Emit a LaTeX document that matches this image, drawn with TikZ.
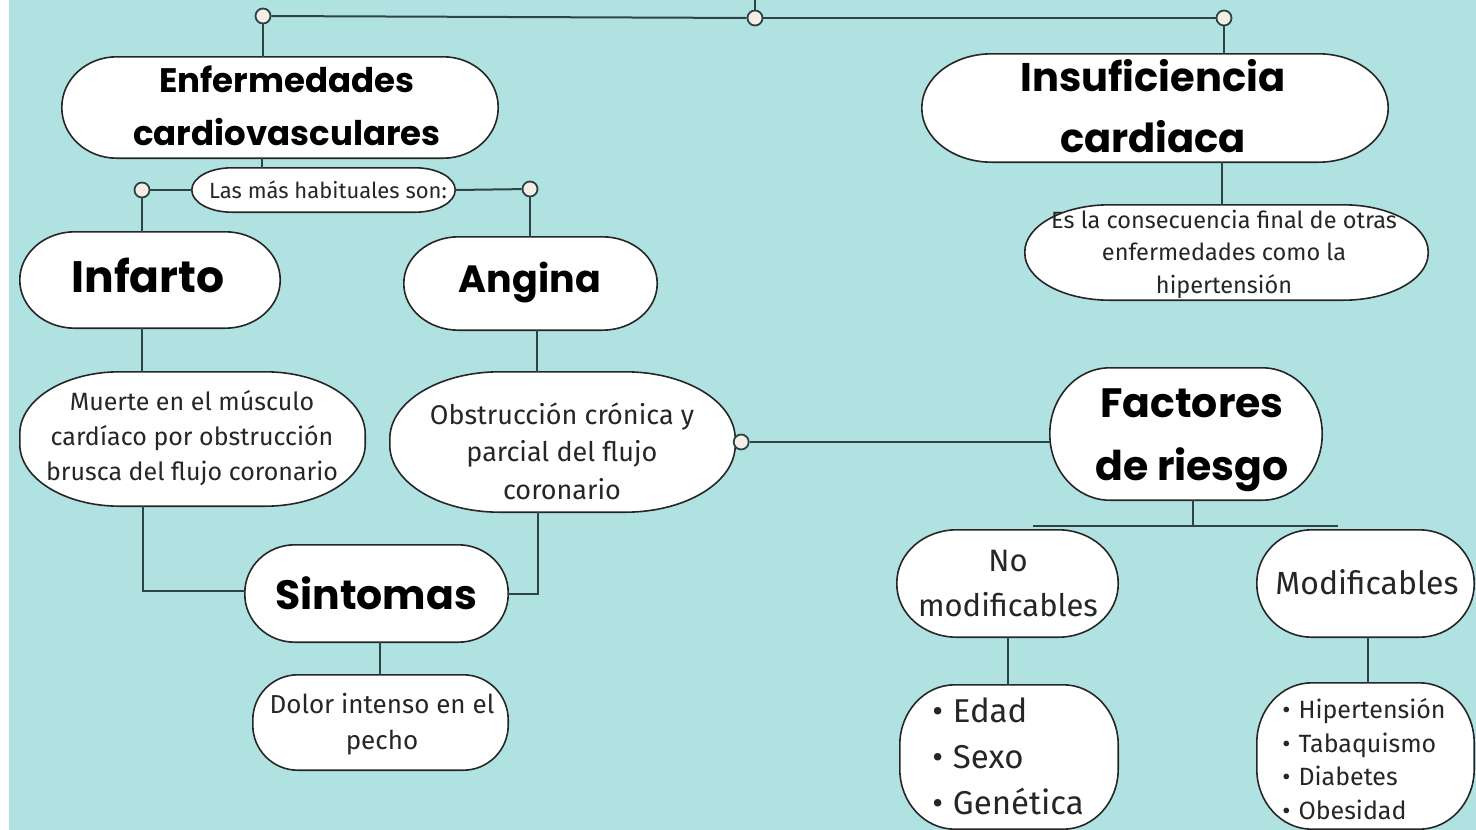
\documentclass[tikz,border=0pt]{standalone}
\usepackage{fontspec}
\setmainfont{Fira Sans}
\newfontfamily\titlefont{Poppins}
\usetikzlibrary{calc}
\definecolor{bgc}{HTML}{B1E2E2}
\definecolor{lnc}{HTML}{2E4444}
\definecolor{dotc}{HTML}{F4EEE6}
\definecolor{olc}{HTML}{262626}
% #1 name, #2 cx, #3 cy (px, downward), #4 w, #5 h, #6 rx, #7 ry
\newcommand\blob[7]{%
  \node[inner sep=0pt, minimum width=#4, minimum height=#5] (#1) at (#2,-#3) {};
  \draw[shapeline] ([xshift=#6]#1.north west) -- ([xshift=-#6]#1.north east)
    arc[start angle=90,end angle=0,x radius=#6,y radius=#7]
    -- ([yshift=#7]#1.south east)
    arc[start angle=0,end angle=-90,x radius=#6,y radius=#7]
    -- ([xshift=#6]#1.south west)
    arc[start angle=270,end angle=180,x radius=#6,y radius=#7]
    -- ([yshift=-#7]#1.north west)
    arc[start angle=180,end angle=90,x radius=#6,y radius=#7] -- cycle;
}
\begin{document}
\begin{tikzpicture}[x=1pt,y=1pt,
  conn/.style={draw=lnc,line width=2pt},
  dot/.style={circle,draw=lnc,line width=1.8pt,fill=dotc,minimum size=15pt,inner sep=0pt},
  shapeline/.style={draw=olc,line width=1.6pt,fill=white},
  ttl/.style 2 args={font=\titlefont\bfseries\fontsize{#1}{#2}\selectfont, align=center, inner sep=0pt, text=black},
  txt/.style 2 args={font=\fontsize{#1}{#2}\selectfont, align=center, inner sep=0pt, text=black!85},
  lst/.style 2 args={font=\fontsize{#1}{#2}\selectfont, align=left, inner sep=0pt, text=black!85}]
\useasboundingbox (0,0) rectangle (1476,-830);
\fill[white] (0,0) rectangle (1476,-830);
\fill[bgc] (9,0) rectangle (1476,-830);

% shapes
\blob{enf}{280}{107.5}{436}{101}{55}{50.5}
\blob{ins}{1155}{108}{466}{108}{70}{54}
\blob{las}{323.5}{190}{263}{44}{40}{22}
\blob{inf}{150}{280}{260}{96}{55}{48}
\blob{ang}{530.5}{283.5}{253}{93}{55}{46.5}
\blob{mue}{192.5}{439}{345}{134}{100}{62}
\blob{obs}{562.5}{442}{345}{140}{110}{67}
\blob{sin}{376.5}{593.5}{263}{97}{50}{48}
\blob{dol}{380.5}{722.5}{255}{95}{45}{45}
\blob{esla}{1226.5}{252.5}{403}{95}{85}{47}
\blob{fac}{1186}{434}{272}{132}{60}{66}
\blob{nomod}{1007.5}{583.5}{221}{107}{60}{53}
\blob{mod}{1365.5}{583.5}{217}{107}{55}{53}
\blob{edad}{1009}{757}{218}{144}{55}{60}
\blob{hip}{1365.5}{756}{217}{146}{55}{60}

% texts
\node[ttl={34}{53}] (tenf) at (287,-106) {Enfermedades\\cardiovasculares};
\node[ttl={40}{61}] (tins) at (1153,-106) {Insuficiencia\\cardiaca};
\node[txt={22}{24}] (tlas) at (328,-190) {Las más habituales son:};
\node[ttl={44}{46}] (tinf) at (148,-275) {Infarto};
\node[ttl={38}{46}] (tang) at (530,-283) {Angina};
\node[ttl={41}{46}] (tsin) at (376,-593) {Sintomas};
\node[ttl={41}{63}] (tfac) at (1192,-440) {Factores\\de riesgo};
\node[txt={25}{35}] (tmue) at (192,-438) {Muerte en el músculo\\cardíaco por obstrucción\\brusca del flujo coronario};
\node[txt={27}{37.5}] (tobs) at (562,-451) {Obstrucción crónica y\\parcial del flujo\\coronario};
\node[txt={26}{36}] (tdol) at (382,-724) {Dolor intenso en el\\pecho};
\node[txt={23.5}{32.5}] (tesla) at (1224,-254) {Es la consecuencia final de otras\\enfermedades como la\\hipertensión};
\node[txt={31}{45}] (tnomod) at (1008,-583.5) {No\\modificables};
\node[txt={32}{36}] (tmod) at (1367,-582) {Modificables};
\node[lst={33}{46}] (tedad) at (1008,-756) {\textbullet\hspace{10pt}Edad\\\textbullet\hspace{10pt}Sexo\\\textbullet\hspace{10pt}Genética};
\node[lst={25}{33.5}] (thip) at (1364,-759) {\textbullet\hspace{8pt}Hipertensión\\\textbullet\hspace{8pt}Tabaquismo\\\textbullet\hspace{8pt}Diabetes\\\textbullet\hspace{8pt}Obesidad};

% dots
\coordinate (top) at (755,0);
\node[dot] (c0) at (755,-18) {};
\node[dot] (c1) at (263,-16) {};
\node[dot] (c2) at (1224,-18) {};
\node[dot] (c3) at (142,-190) {};
\node[dot] (c4) at (530,-189) {};
\node[dot] (c5) at ([xshift=6]obs.east) {};

% connectors
\draw[conn] (top) -- (c0);
\draw[conn] (c1) -- (c0);
\draw[conn] (c0) -- (c2);
\draw[conn] (c1) -- (c1 |- enf.north);
\draw[conn] (c2) -- (c2 |- ins.north);
\draw[conn] ([xshift=-18]enf.south) -- ([xshift=-18]enf.south |- las.north);
\draw[conn] (c3) -- (las.west);
\draw[conn] (las.east) -- (c4);
\draw[conn] (c3) -- (c3 |- inf.north);
\draw[conn] (c4) -- (c4 |- ang.north);
\draw[conn] ([xshift=-8]inf.south) -- ([xshift=-8]inf.south |- mue.north);
\draw[conn] ([xshift=6]ang.south) -- ([xshift=6]ang.south |- obs.north);
\draw[conn] ([xshift=-50]mue.south) |- ([yshift=3]sin.west);
\draw[conn] ([xshift=-25]obs.south) |- (sin.east);
\draw[conn] ([xshift=3]sin.south) -- ([xshift=3]sin.south |- dol.north);
\draw[conn] ([xshift=67]ins.south) -- ([xshift=67]ins.south |- esla.north);
\draw[conn] (c5) -- (c5 -| fac.west);
\coordinate (fl) at (1033,-526);
\coordinate (fr) at (1338,-526);
\draw[conn] (fl) -- (fr);
\draw[conn] ([xshift=7]fac.south) -- ([xshift=7]fac.south |- fl);
\draw[conn] (nomod.south) -- (nomod.south |- edad.north);
\draw[conn] ([xshift=2]mod.south) -- ([xshift=2]mod.south |- hip.north);
\end{tikzpicture}
\end{document}
